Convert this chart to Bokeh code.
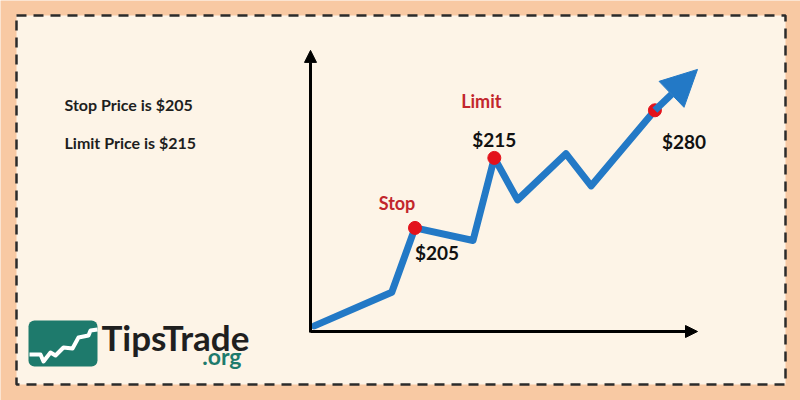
from bokeh.plotting import figure
from bokeh.models import Range1d, Arrow, NormalHead, BoxAnnotation
from bokeh.core.properties import value
from bokeh.embed import file_html
from bokeh.resources import INLINE

# ---- data (illustrative price path: time 0-100, level 0-100) ----
TIME = [1, 21, 27, 42, 47.5, 53.5, 66, 72.5, 89]
LEVEL = [2, 14, 37, 32.5, 62, 47, 63.5, 52, 79]
TREND_TIP_TIME = 100
TREND_TIP_LEVEL = 93.6

KEY_INDEX = [2, 4, 8]
KEY_PRICE_LABELS = ["$205", "$215", "$280"]
KEY_NAMES = ["Stop", "Limit", ""]

INFO_LINES = ["Stop Price is $205", "Limit Price is $215"]

AXIS_MAX_TIME = 100
AXIS_MAX_LEVEL = 100.4

# logo zigzag (brand mark outline, in image pixels)
LOGO_ZIG_PX = [(29, 354), (40, 354), (43, 361), (50, 352), (55, 355), (63, 347),
               (72, 348), (78, 337), (88, 335), (90, 330), (97, 329)]

# ---- pixel <-> data helpers (image pixel coords) ----
SX, SY = 3.87, 2.8
OX, OY = 310, 331
PAGE_OFF = 0


def px2x(px):
    return (px - OX) / SX


def py2y(py):
    return (OY - py) / SY


W, H = 800, 400
p = figure(width=W, height=H, output_backend="svg", toolbar_location=None,
           x_range=Range1d(px2x(PAGE_OFF), px2x(PAGE_OFF + W)),
           y_range=Range1d(py2y(PAGE_OFF + H), py2y(PAGE_OFF)),
           min_border=0, background_fill_color="#f8c9a3", border_fill_color="#f8c9a3")
p.axis.visible = False
p.grid.visible = False
p.outline_line_color = None

# cream panel with dashed border
p.add_layout(BoxAnnotation(left=px2x(16), right=px2x(785), top=py2y(15), bottom=py2y(384),
                           fill_color="#fdf4e7", fill_alpha=1.0,
                           line_color="#2b2b2b", line_alpha=1.0, line_width=2.5,
                           line_dash="10 7", level="underlay"))

# logo box
TEAL = "#1e7a6c"
p.add_layout(BoxAnnotation(left=px2x(28), right=px2x(97), top=py2y(320), bottom=py2y(366),
                           fill_color=TEAL, fill_alpha=1.0, line_color=None,
                           border_radius=6, level="underlay"))

# axes arrows
p.add_layout(Arrow(end=NormalHead(size=12, fill_color="black", line_color="black"),
                   x_start=0, y_start=-0.4, x_end=0, y_end=AXIS_MAX_LEVEL,
                   line_color="black", line_width=3))
p.add_layout(Arrow(end=NormalHead(size=12, fill_color="black", line_color="black"),
                   x_start=0, y_start=0, x_end=AXIS_MAX_TIME, y_end=0,
                   line_color="black", line_width=3))

BLUE = "#2379c6"
p.line(TIME, LEVEL, line_color=BLUE, line_width=7, line_join="round", line_cap="round")
p.add_layout(Arrow(end=NormalHead(size=36, fill_color=BLUE, line_color=BLUE),
                   x_start=TIME[-1], y_start=LEVEL[-1],
                   x_end=TREND_TIP_TIME, y_end=TREND_TIP_LEVEL,
                   line_color=BLUE, line_width=7))

kx = [TIME[i] for i in KEY_INDEX]
ky = [LEVEL[i] for i in KEY_INDEX]
p.scatter(kx, ky, size=13, fill_color="#e3121b", line_color="#e3121b")

FONT = value("Lato")
# names (red)
p.text([kx[0]], [ky[0]], text=[KEY_NAMES[0]], x_offset=-18, y_offset=-25,
       text_align="center", text_baseline="middle", text_font=FONT,
       text_font_style="bold", text_font_size="18px", text_color="#c2262c")
p.text([kx[1]], [ky[1]], text=[KEY_NAMES[1]], x_offset=-13, y_offset=-57,
       text_align="center", text_baseline="middle", text_font=FONT,
       text_font_style="bold", text_font_size="18px", text_color="#c2262c")
# price labels
offs = [(22, 25), (0, -18), (29, 31)]
for (dx, dy), i, lab in zip(offs, range(3), KEY_PRICE_LABELS):
    p.text([kx[i]], [ky[i]], text=[lab], x_offset=dx, y_offset=dy,
           text_align="center", text_baseline="middle", text_font=FONT,
           text_font_style="bold", text_font_size="19px", text_color="#111111")

# info lines
p.text([px2x(64)] * 2, [py2y(104), py2y(142)], text=INFO_LINES,
       text_align="left", text_baseline="middle", text_font=FONT,
       text_font_style="bold", text_font_size="16px", text_color="#1e1e1e")

# logo
p.line([px2x(a) for a, b in LOGO_ZIG_PX], [py2y(b) for a, b in LOGO_ZIG_PX],
       line_color="white", line_width=4, line_join="round")
p.text([px2x(101)], [py2y(336)], text=["TipsTrade"], text_align="left",
       text_baseline="middle", text_font=value("Lato"), text_font_style="bold",
       text_font_size="35px", text_color="#1f1f1f")
p.text([px2x(241)], [py2y(355)], text=[".org"], text_align="right",
       text_baseline="middle", text_font=value("Lato"), text_font_style="bold",
       text_font_size="23px", text_color=TEAL)

open("out.html", "w").write(file_html(p, INLINE))
